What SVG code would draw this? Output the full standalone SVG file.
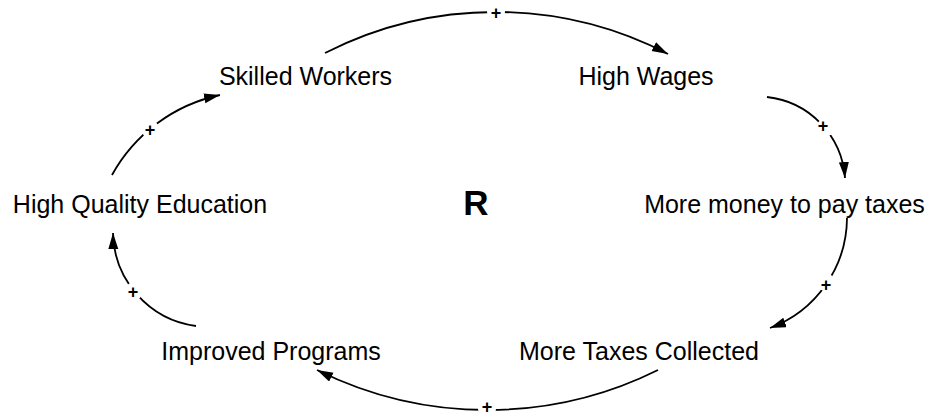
<svg xmlns="http://www.w3.org/2000/svg" width="933" height="417" viewBox="0 0 933 417">
  <style>
    .lbl { font-family: "Liberation Sans", Arial, sans-serif; font-size: 25px; fill: #000; text-anchor: middle; }
    .loop { font-family: "Liberation Sans", Arial, sans-serif; font-size: 35px; font-weight: bold; fill: #000; text-anchor: middle; }
    .link { fill: none; stroke: #000; stroke-width: 1.8; marker-end: url(#head); }
    .pol { font-family: "Liberation Sans", Arial, sans-serif; font-size: 18px; font-weight: bold; fill: #000; text-anchor: middle; }
    .gap { fill: #fff; }
  </style>
  <defs>
    <marker id="head" markerUnits="userSpaceOnUse" markerWidth="17" markerHeight="11" refX="16" refY="5" orient="auto">
      <path d="M0,0 L16,5 L0,10 z" fill="#000"/>
    </marker>
  </defs>
  <rect width="933" height="417" fill="#fff"/>

  <g id="connectors">
    <!-- Skilled Workers -> High Wages -->
    <path class="link" d="M325,53 A375,375 0 0,1 668,54"/>
    <circle class="gap" cx="496" cy="12" r="9"/>
    <text class="pol" x="496" y="18.5">+</text>
    <!-- High Wages -> More money to pay taxes -->
    <path class="link" d="M767,97 A87.7,87.7 0 0,1 845,178"/>
    <circle class="gap" cx="825" cy="128" r="9"/>
    <text class="pol" x="823" y="131.5">+</text>
    <!-- More money to pay taxes -> More Taxes Collected -->
    <path class="link" d="M847,218 A118.2,118.2 0 0,1 770,328"/>
    <circle class="gap" cx="827" cy="283" r="9"/>
    <text class="pol" x="826" y="290.5">+</text>
    <!-- More Taxes Collected -> Improved Programs (bottom) -->
    <path class="link" d="M658,370 A383.4,383.4 0 0,1 317,370"/>
    <circle class="gap" cx="487" cy="409" r="9"/>
    <text class="pol" x="487" y="413">+</text>
    <!-- Improved Programs -> High Quality Education -->
    <path class="link" d="M196,326 A95.7,95.7 0 0,1 113,233"/>
    <circle class="gap" cx="134" cy="291" r="9"/>
    <text class="pol" x="133" y="297.5">+</text>
    <!-- High Quality Education -> Skilled Workers -->
    <path class="link" d="M112,175 A161.8,161.8 0 0,1 220,95"/>
    <circle class="gap" cx="150" cy="129" r="9"/>
    <text class="pol" x="150" y="135.5">+</text>
  </g>

  <g id="skilled-workers"><text class="lbl" x="305.5" y="85">Skilled Workers</text></g>
  <g id="high-wages"><text class="lbl" x="646" y="85">High Wages</text></g>
  <g id="more-money"><text class="lbl" x="784.5" y="213">More money to pay taxes</text></g>
  <g id="more-taxes"><text class="lbl" x="639" y="360">More Taxes Collected</text></g>
  <g id="improved-programs"><text class="lbl" x="271" y="360">Improved Programs</text></g>
  <g id="high-quality-education"><text class="lbl" x="140" y="213">High Quality Education</text></g>
  <g id="loop-r"><text class="loop" x="476" y="215">R</text></g>
</svg>
